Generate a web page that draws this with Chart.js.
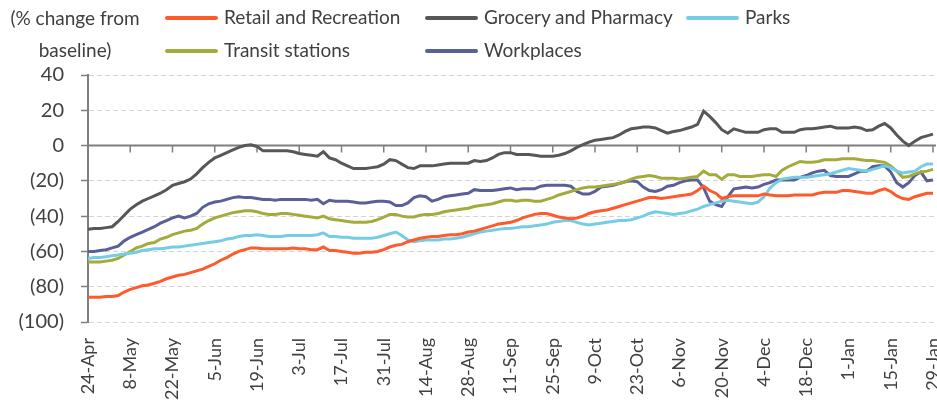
<!DOCTYPE html>
<html>
<head>
<meta charset="utf-8">
<script src="https://cdn.jsdelivr.net/npm/chart.js@4.4.1/dist/chart.umd.min.js"></script>
<style>
  body { margin: 0; background: #fff; }
  #wrap { position: relative; width: 937px; height: 406px; font-family: Lato, sans-serif; color: #404040; }
  canvas { position: absolute; left: 0; top: 0; }
  .ytitle { position: absolute; left: 0; top: 2px; width: 150px; text-align: center; font-size: 19px; line-height: 32px; }
  .leg { position: absolute; font-size: 19px; line-height: 20px; white-space: nowrap; }
  .leg i { display: inline-block; width: 53px; height: 4px; border-radius: 2px; vertical-align: middle; margin-right: 6px; position: relative; top: -1px; }
</style>
</head>
<body>
<div id="wrap">
  <canvas id="chart" width="937" height="406"></canvas>
  <div class="ytitle">(% change from<br>baseline)</div>
  <div id="legend"></div>
</div>
<script>
// daily mobility, one value every 2 days starting 24-Apr
const STEP = 2;
const tickLabels = ['24-Apr', '8-May', '22-May', '5-Jun', '19-Jun', '3-Jul', '17-Jul', '31-Jul',
  '14-Aug', '28-Aug', '11-Sep', '25-Sep', '9-Oct', '23-Oct', '6-Nov', '20-Nov', '4-Dec',
  '18-Dec', '1-Jan', '15-Jan', '29-Jan'];

const retail = [
  -86, -86, -86, -85.5, -85.5, -85, -83, -81.5, -80.5, -79.5,
  -79, -78, -77, -75.5, -74.5, -73.5, -73, -72, -71, -70,
  -68.5, -67, -65, -63.5, -61.5, -60, -59, -58, -58, -58.5,
  -58.5, -58.5, -58.5, -58.5, -58, -58.5, -58.5, -59, -59, -57.5,
  -59.5, -59.5, -60, -60.5, -61, -61, -60.5, -60.5, -60, -59,
  -57.5, -56.5, -56, -54.5, -53.5, -52.5, -52, -51.5, -51.5, -51,
  -50.5, -50.5, -50, -49, -48.5, -47.5, -46.5, -45.5, -44.5, -44,
  -43.5, -42.5, -41, -40, -39, -38.5, -38.5, -39.5, -40.5, -41,
  -41.5, -41, -40, -38.5, -37.5, -37, -36.5, -35.5, -34.5, -33.5,
  -32.5, -31.5, -30.5, -29.5, -29.5, -30, -29.5, -29, -28.5, -28,
  -27.5, -25.5, -23, -25.5, -27, -30, -29, -28.5, -28.5, -28.5,
  -28.5, -28.5, -27.5, -28, -28.5, -28.5, -28.5, -28, -28, -28,
  -28, -27, -26.5, -26.5, -26.5, -25.5, -25.5, -26, -26.5, -27,
  -27, -25.5, -24.5, -26, -28.5, -30, -30.5, -29, -28, -27,
  -27
];

const grocery = [
  -47.5, -47, -47, -46.5, -46, -43, -39.5, -36, -33.5, -31.5,
  -30, -28.5, -27, -25, -22.5, -21.5, -20.5, -19, -16, -12.5,
  -9.5, -7, -5.5, -4, -2.5, -1, 0, 0.5, -0.5, -3,
  -3, -3, -3, -3, -3.5, -4.5, -5, -5.5, -6, -3.5,
  -7, -8, -10, -11.5, -13, -13, -13, -12.5, -12, -10.5,
  -8, -8.5, -10.5, -12.5, -13, -11.5, -11.5, -11.5, -11, -10.5,
  -10, -10, -10, -10, -8.5, -9, -8.5, -7, -5, -4,
  -4, -5, -5, -5, -5.5, -6, -6, -6, -5.5, -4.5,
  -3, -1, 0.5, 2, 3, 3.5, 4, 4.5, 6, 8,
  9.5, 10, 10.5, 10.5, 10, 8.5, 7, 8, 8.5, 9.5,
  10.5, 12, 19.5, 16.5, 13, 9, 7, 9.5, 8.5, 7.5,
  7.5, 7.5, 9, 9.5, 9.5, 7.5, 7.5, 7.5, 9, 9.5,
  9.5, 10, 10.5, 11, 10, 10, 10, 10.5, 10, 8.5,
  9, 11, 12.5, 10, 6, 2.5, 0, 2.5, 4.5, 5.5,
  6.5
];

const parks = [
  -64, -63.5, -63.5, -63, -62.5, -62, -61.5, -61, -60.5, -59.5,
  -59, -58.5, -58.5, -58, -57.5, -57.5, -57, -56.5, -56, -55.5,
  -55, -54.5, -54, -53, -52.5, -51.5, -51, -51, -50.5, -51,
  -51.5, -51.5, -51.5, -51, -51, -51, -51, -51, -50.5, -49.5,
  -51.5, -51.5, -52, -52, -52.5, -52.5, -52.5, -52.5, -52, -51,
  -50, -49, -51, -53.5, -54.5, -54, -53.5, -53.5, -53.5, -53,
  -53, -52.5, -52, -51, -50, -49, -48.5, -48, -47.5, -47,
  -47, -46.5, -46, -46, -45.5, -45, -44.5, -43.5, -43, -42.5,
  -42.5, -43.5, -44.5, -45, -44.5, -44, -43.5, -43, -42.5, -42.5,
  -42, -41, -40, -38.5, -37.5, -38, -38.5, -39, -38.5, -38,
  -37, -36, -34.5, -33.5, -32.5, -31.5, -31, -31.5, -32, -32.5,
  -33, -32, -29, -24, -21, -19, -18.5, -18, -18, -18,
  -17.5, -17, -16.5, -16, -15, -14, -13, -13.5, -14, -14.5,
  -13.5, -12.5, -11.5, -12.5, -14.5, -15.5, -15, -14.5, -12, -10.5,
  -10.5
];

const transit = [
  -66, -66, -66, -65.5, -65, -64, -62, -60, -58, -57,
  -55.5, -55, -53, -52, -50.5, -49.5, -48.5, -48, -47, -44.5,
  -42.5, -41, -40, -39, -38, -37.5, -37, -37, -37.5, -38.5,
  -39, -39, -38.5, -38.5, -39, -39.5, -40, -40.5, -41, -40,
  -41.5, -42, -42.5, -43, -43.5, -43.5, -43.5, -43, -42, -40.5,
  -39, -39, -40, -40.5, -40.5, -39.5, -39, -39, -38.5, -37.5,
  -37, -36.5, -36, -35.5, -34.5, -34, -33.5, -33, -32, -31,
  -31, -31.5, -31, -31, -31.5, -31.5, -30.5, -29.5, -28, -27,
  -26, -25, -24, -23.5, -23.5, -23, -22.5, -22, -21.5, -20.5,
  -19, -18, -17.5, -17, -17.5, -18.5, -18.5, -18.5, -19, -18.5,
  -18, -17.5, -14.5, -16.5, -16.5, -19, -16.5, -16.5, -17.5, -17.5,
  -17.5, -17, -16.5, -16.5, -17.5, -14, -12, -10.5, -9, -9.5,
  -9.5, -9, -8, -8, -8, -7.5, -7.5, -7.5, -8, -8.5,
  -8.5, -9, -9.5, -11.5, -14.5, -18, -17.5, -16, -15, -14.5,
  -13.5
];

const workplaces = [
  -60, -60, -59.5, -59, -58, -57, -54, -52, -50.5, -49,
  -47.5, -46, -44, -42.5, -41, -40, -41, -40, -38.5, -35,
  -33, -32, -31.5, -30.5, -29.5, -29, -29.5, -29.5, -30, -30.5,
  -30.5, -31, -30.5, -30.5, -30.5, -30.5, -30.5, -31, -30.5, -33,
  -31, -31.5, -31.5, -31.5, -32, -32.5, -32.5, -32, -31.5, -31.5,
  -32, -34, -34, -32.5, -29.5, -28.5, -29, -31.5, -30.5, -29,
  -28.5, -28, -27.5, -27, -25, -25.5, -25.5, -25.5, -25, -24.5,
  -24, -25, -24.5, -24.5, -24.5, -23, -22.5, -22.5, -22.5, -22.5,
  -23, -26, -27.5, -27.5, -26, -23.5, -23, -22.5, -21.5, -20.5,
  -20, -20.5, -23.5, -25.5, -26, -25, -23, -22.5, -21, -20,
  -19.5, -19.5, -24, -31.5, -33.5, -34.5, -29, -24.5, -24, -23.5,
  -24, -23.5, -22, -21, -19.5, -19.5, -19.5, -19.5, -18, -17,
  -15.5, -14.5, -14, -17, -17.5, -17.5, -17.5, -16, -14.5, -14.5,
  -12, -11.5, -11.5, -15, -21, -23.5, -21, -17, -15, -20,
  -19.5
];

const series = [
  { label: 'Retail and Recreation', values: retail, color: '#ff5a2c', left: 165, top: 7 },
  { label: 'Grocery and Pharmacy', values: grocery, color: '#575757', left: 425, top: 7 },
  { label: 'Parks', values: parks, color: '#74cde4', left: 686, top: 7 },
  { label: 'Transit stations', values: transit, color: '#a3ab3b', left: 165, top: 40 },
  { label: 'Workplaces', values: workplaces, color: '#5a5f98', left: 425, top: 40 }
];

// html legend
const legend = document.getElementById('legend');
series.forEach(s => {
  const d = document.createElement('div');
  d.className = 'leg';
  d.style.left = s.left + 'px';
  d.style.top = s.top + 'px';
  d.innerHTML = '<i style="background:' + s.color + '"></i>' + s.label;
  legend.appendChild(d);
});

// solid zero line with the date ticks hanging off it
const zeroLine = {
  id: 'zeroLine',
  beforeDatasetsDraw(chart) {
    const { ctx, chartArea, scales } = chart;
    const y0 = scales.y.getPixelForValue(0);
    ctx.save();
    ctx.strokeStyle = '#7f7f7f';
    ctx.lineWidth = 2;
    ctx.beginPath();
    ctx.moveTo(chartArea.left, y0);
    ctx.lineTo(chartArea.right, y0);
    ctx.stroke();
    ctx.lineWidth = 1.5;
    ctx.beginPath();
    scales.x.ticks.forEach(t => {
      const px = scales.x.getPixelForValue(t.value);
      ctx.moveTo(px, y0);
      ctx.lineTo(px, y0 + 7);
    });
    ctx.stroke();
    ctx.restore();
  }
};

new Chart(document.getElementById('chart'), {
  type: 'line',
  data: {
    datasets: series.map(s => ({
      label: s.label,
      data: s.values.map((v, i) => ({ x: i * STEP, y: v })),
      borderColor: s.color,
      backgroundColor: s.color,
      borderWidth: 3,
      pointRadius: 0,
      tension: 0
    }))
  },
  options: {
    responsive: false,
    animation: false,
    layout: { padding: { top: 75, right: 1, left: 0, bottom: 0 } },
    plugins: { legend: { display: false }, tooltip: { enabled: false } },
    scales: {
      x: {
        type: 'linear',
        min: 0,
        max: 281,
        grid: { display: false },
        border: { display: false },
        ticks: {
          stepSize: 14,
          includeBounds: false,
          autoSkip: false,
          maxRotation: 90,
          minRotation: 90,
          padding: 8,
          color: '#404040',
          font: { family: 'Lato', size: 18 },
          callback: v => tickLabels[v / 14]
        },
        afterFit: s => { s.height = 84; s.paddingLeft = 0; s.paddingRight = 0; }
      },
      y: {
        min: -100,
        max: 40,
        grid: {
          color: c => c.tick && c.tick.value === 0 ? 'rgba(0,0,0,0)' : '#d4d4d4',
          lineWidth: 1,
          tickColor: '#7f7f7f',
          tickLength: 7,
          tickWidth: 1.5
        },
        border: { display: true, color: '#7f7f7f', width: 2, dash: [5, 3] },
        ticks: {
          stepSize: 20,
          padding: 17,
          color: '#404040',
          font: { family: 'Lato', size: 20 },
          callback: v => v < 0 ? '(' + (-v) + ')' : String(v)
        },
        afterFit: s => { s.width = 88; }
      }
    }
  },
  plugins: [zeroLine]
});
</script>
</body>
</html>
